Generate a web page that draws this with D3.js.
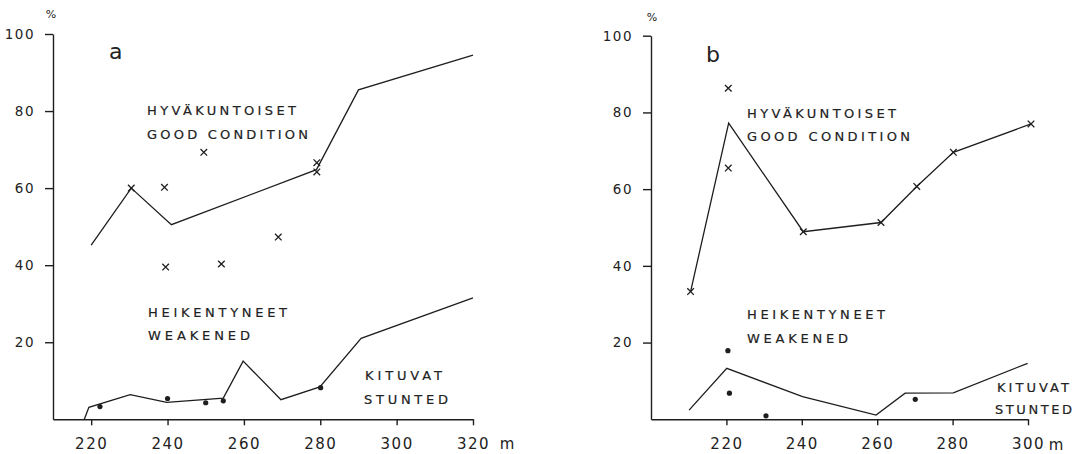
<!DOCTYPE html>
<html>
<head>
<meta charset="utf-8">
<script src="https://cdn.jsdelivr.net/npm/d3@7"></script>
<style>
  body { margin: 0; background: #fff; }
  svg { display: block; }
  text { font-family: "DejaVu Sans", sans-serif; fill: #222; }
</style>
</head>
<body>
<div id="chart"></div>
<script>
// panel a - lines and scattered plots
const aGoodLine = [[220, 45.2], [230.5, 60], [241, 50.5], [279, 64.8], [290, 85.5], [320, 94.5]];
const aGoodCross = [[230.5, 60], [239.2, 60.2], [249.5, 69.3], [279.1, 66.6], [279.1, 64.2], [239.5, 39.5], [254.1, 40.3], [269, 47.3]];
const aStuntLine = [[218.2, 0], [219.4, 3.1], [230.2, 6.4], [239.8, 4.4], [254.6, 5.5], [259.8, 15.1], [269.7, 5.1], [279.9, 8.4], [290.7, 21], [320, 31.5]];
const aStuntDot = [[222.3, 3.3], [240, 5.4], [250, 4.3], [254.6, 4.8], [280.1, 8.2]];
const aXTicks = [220, 240, 260, 280, 300, 320];

// panel b
const bGoodLine = [[210.5, 33.3], [220.6, 77.2], [240.4, 48.9], [261, 51.3], [270.5, 60.7], [280.2, 69.6], [300.8, 77]];
const bGoodCross = [[210.5, 33.3], [220.5, 86.3], [220.5, 65.5], [240.4, 48.9], [261, 51.3], [270.5, 60.7], [280.2, 69.6], [300.8, 77]];
const bStuntLine = [[210.1, 2.4], [220.1, 13.3], [240.2, 5.9], [259.7, 1.1], [267.4, 6.8], [280.2, 6.9], [299.9, 14.6]];
const bStuntDot = [[220.4, 17.9], [220.8, 6.8], [230.5, 0.9], [270.1, 5.2]];
const bXTicks = [220, 240, 260, 280, 300];

const yTicks = [20, 40, 60, 80, 100];

const svg = d3.select("#chart").append("svg")
  .attr("width", 1084)
  .attr("height", 454);

const ink = "#1e1e1e";

function panel(opt) {
  const x = d3.scaleLinear().domain(opt.xDomain).range(opt.xRange);
  const y = d3.scaleLinear().domain([0, 100]).range(opt.yRange);
  const g = svg.append("g");

  // Y axis
  const ya = g.append("g")
    .attr("transform", `translate(${opt.xRange[0]},0)`)
    .call(d3.axisLeft(y).tickValues(yTicks).tickSize(8).tickSizeOuter(0).tickPadding(10));
  ya.selectAll("text")
    .style("font-size", "13.5px")
    .style("letter-spacing", "1.5px")
    .attr("fill", ink);

  // X axis
  const xa = g.append("g")
    .attr("transform", `translate(0,${opt.yRange[0]})`)
    .call(d3.axisBottom(x).tickValues(opt.xTicks).tickSize(6).tickSizeOuter(0).tickPadding(13));
  xa.selectAll("text")
    .style("font-size", "15px")
    .style("letter-spacing", "1.5px")
    .attr("fill", ink);
  g.selectAll(".domain, .tick line").attr("stroke", ink).attr("stroke-width", 1.4);
  g.selectAll(".domain").attr("fill", "none");

  const line = d3.line().x(d => x(d[0])).y(d => y(d[1]));

  g.append("path").datum(opt.good).attr("d", line)
    .attr("fill", "none").attr("stroke", ink).attr("stroke-width", 1.3);
  g.append("path").datum(opt.stunt).attr("d", line)
    .attr("fill", "none").attr("stroke", ink).attr("stroke-width", 1.3);

  // crosses
  g.selectAll(".cross").data(opt.cross).join("path")
    .attr("class", "cross")
    .attr("d", d => {
      const cx = x(d[0]), cy = y(d[1]), s = 3.3;
      return `M${cx - s},${cy - s}L${cx + s},${cy + s}M${cx - s},${cy + s}L${cx + s},${cy - s}`;
    })
    .attr("stroke", ink).attr("stroke-width", 1.3).attr("fill", "none");

  // dots
  g.selectAll(".dot").data(opt.dots).join("circle")
    .attr("class", "dot")
    .attr("cx", d => x(d[0]))
    .attr("cy", d => y(d[1]))
    .attr("r", 2.6)
    .attr("fill", ink);

  // units
  g.append("text").attr("x", opt.pct[0]).attr("y", opt.pct[1])
    .attr("text-anchor", "middle").style("font-size", "11px").text("%");
  g.append("text").attr("x", opt.m[0]).attr("y", opt.m[1])
    .attr("text-anchor", "middle").style("font-size", "15px").text("m");

  // panel letter
  g.append("text").attr("x", opt.letter[0]).attr("y", opt.letter[1])
    .style("font-size", "22px").text(opt.letter[2]);

  // category labels
  opt.labels.forEach(l => {
    g.append("text")
      .attr("x", l[1]).attr("y", l[2])
      .attr("textLength", l[3])
      .attr("lengthAdjust", "spacing")
      .style("font-size", "13px")
      .attr("stroke", ink).attr("stroke-width", 0.2)
      .text(l[0]);
  });
}

panel({
  xDomain: [210, 320], xRange: [53, 473], yRange: [419.3, 34],
  xTicks: aXTicks,
  good: aGoodLine, cross: aGoodCross, stunt: aStuntLine, dots: aStuntDot,
  pct: [51, 18], m: [507, 449], letter: [109, 59, "a"],
  labels: [
    ["HYVÄKUNTOISET", 147, 115, 149],
    ["GOOD CONDITION", 147, 139, 161],
    ["HEIKENTYNEET", 148, 317, 139],
    ["WEAKENED", 148, 340, 102],
    ["KITUVAT", 365, 380, 77],
    ["STUNTED", 364, 404, 84]
  ]
});

panel({
  xDomain: [200, 300], xRange: [651, 1028], yRange: [419.3, 35.7],
  xTicks: bXTicks,
  good: bGoodLine, cross: bGoodCross, stunt: bStuntLine, dots: bStuntDot,
  pct: [652, 21], m: [1056, 450], letter: [706, 62, "b"],
  labels: [
    ["HYVÄKUNTOISET", 747, 118, 149],
    ["GOOD CONDITION", 747, 141, 163],
    ["HEIKENTYNEET", 747, 319, 138],
    ["WEAKENED", 747, 343, 101],
    ["KITUVAT", 997, 392, 72],
    ["STUNTED", 995, 414, 77]
  ]
});
</script>
</body>
</html>
